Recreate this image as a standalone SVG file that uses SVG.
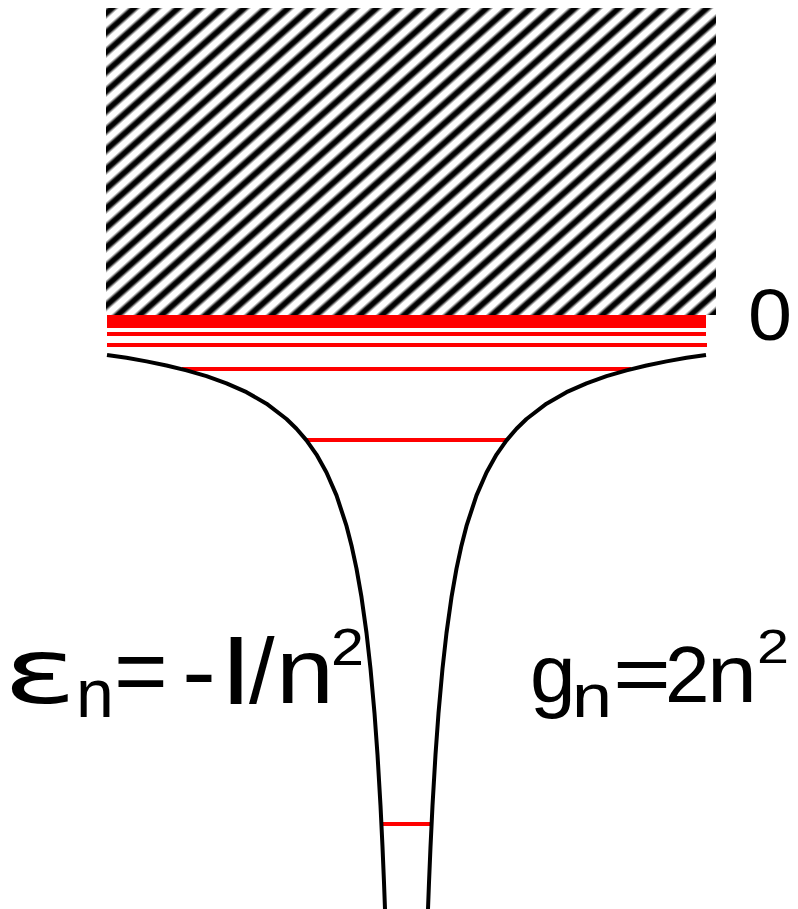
<svg xmlns="http://www.w3.org/2000/svg" width="798" height="909" viewBox="0 0 798 909">
  <style>
    .lvl { stroke: #ff0000; stroke-width: 4; fill: none; }
    .pot { stroke: #000; stroke-width: 4; fill: none; stroke-linejoin: round; }
    .t { font-family: "Liberation Sans", Arial, sans-serif; fill: #000; }
  </style>
  <defs>
    <linearGradient id="sg" x1="0" y1="0" x2="1" y2="0">
      <stop offset="0" stop-color="#fff"/>
      <stop offset="0.18" stop-color="#fff"/>
      <stop offset="0.38" stop-color="#000"/>
      <stop offset="0.62" stop-color="#000"/>
      <stop offset="0.82" stop-color="#fff"/>
      <stop offset="1" stop-color="#fff"/>
    </linearGradient>
    <pattern id="hatch" patternUnits="userSpaceOnUse" width="14.6" height="40" patternTransform="rotate(48.5)">
      <rect x="0" y="0" width="14.6" height="40" fill="url(#sg)"/>
    </pattern>
  </defs>

  <g id="continuum">
    <rect x="106" y="8" width="610" height="307" fill="url(#hatch)"/>
  </g>

  <g id="levels">
    <rect x="107" y="315" width="599" height="13" fill="#ff0000"/>
    <line class="lvl" x1="107" y1="334" x2="706" y2="334"/>
    <line class="lvl" x1="107" y1="345" x2="707" y2="345"/>
    <line class="lvl" x1="182" y1="369" x2="631" y2="369"/>
    <line class="lvl" x1="306" y1="440" x2="507" y2="440"/>
    <line class="lvl" x1="381" y1="824" x2="432" y2="824"/>
  </g>

  <g id="potential">
    <polyline class="pot" points="107,354.9 126.5,357.8 146.5,361.4 166.5,365.5 186.5,370.4 206.5,376.2 226.5,383.3 246.5,392.2 266.5,403.7 286.5,419 296.5,428.7 306.5,440.4 316.5,454.6 326.5,472.5 336.5,495.4 346.5,525.9 351.5,545.4 356.5,568.7 361.5,597.2 366.5,632.9 370.5,668.6 374.5,713.1 377.5,754.6 380.5,805.7 382.5,846.8 384,882.5 385,909 385.2,915"/>
    <polyline class="pot" points="706,354.9 686.5,357.8 666.5,361.4 646.5,365.5 626.5,370.4 606.5,376.2 586.5,383.3 566.5,392.2 546.5,403.7 526.5,419 516.5,428.7 506.5,440.4 496.5,454.6 486.5,472.5 476.5,495.4 466.5,525.9 461.5,545.4 456.5,568.7 451.5,597.2 446.5,632.9 442.5,668.6 438.5,713.1 435.5,754.6 432.5,805.7 430.5,846.8 429,882.5 428,909 427.8,915"/>
  </g>

  <g id="zero-label">
    <text class="t" x="748" y="340" font-size="72" textLength="44" lengthAdjust="spacingAndGlyphs">0</text>
  </g>

  <g id="energy-label">
    <text x="3" y="703" font-family="'DejaVu Sans', sans-serif" font-size="90" textLength="74" lengthAdjust="spacingAndGlyphs">ε</text>
    <text class="t" x="76" y="717" font-size="68">n</text>
    <text class="t" x="114" y="703" font-size="92">=</text>
    <text class="t" x="182" y="703" font-size="92" textLength="34" lengthAdjust="spacingAndGlyphs">-</text>
    <text class="t" x="223" y="703" font-size="94" stroke="#000" stroke-width="2">I</text>
    <text class="t" x="249" y="703" font-size="92">/</text>
    <text class="t" x="276" y="703" font-size="92" textLength="58" lengthAdjust="spacingAndGlyphs">n</text>
    <text class="t" x="331" y="665" font-size="52" textLength="33" lengthAdjust="spacingAndGlyphs">2</text>
  </g>

  <g id="degeneracy-label">
    <text class="t" x="530" y="702" font-size="82">g</text>
    <text class="t" x="572" y="717" font-size="62" textLength="40" lengthAdjust="spacingAndGlyphs">n</text>
    <text class="t" x="613" y="702" font-size="82" textLength="58" lengthAdjust="spacingAndGlyphs">=</text>
    <text class="t" x="665" y="702" font-size="80">2</text>
    <text class="t" x="707" y="702" font-size="81" textLength="50" lengthAdjust="spacingAndGlyphs">n</text>
    <text class="t" x="757" y="663" font-size="48" textLength="32" lengthAdjust="spacingAndGlyphs">2</text>
  </g>
</svg>
